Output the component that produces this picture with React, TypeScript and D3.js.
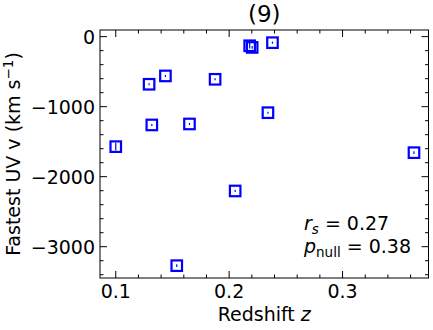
import React from "react";
import * as d3 from "d3";

// redshift / fastest UV velocity
const redshift = [0.1, 0.1318, 0.165, 0.1538, 0.2342, 0.2053, 0.363, 0.1294, 0.1438, 0.1876, 0.2181, 0.2203, 0.2382];
const velocity = [-1571, -1261, -1247, -3271, -1086, -2204, -1657, -680, -561, -609, -130, -154, -86];
const velErr = [55, 15, 15, 20, 15, 15, 20, 15, 15, 15, 40, 20, 15];

const xTicks = [0.1, 0.2, 0.3];
const yTicks = [0, -1000, -2000, -3000];

const W = 433, H = 330;
const margin = {left: 100, right: 4.5, top: 30, bottom: 52};
const font = "'DejaVu Sans', sans-serif";
const fs = 19;

const App = () => {
  const x = d3.scaleLinear().domain([0.0861, 0.3758]).range([margin.left, W - margin.right]);
  const y = d3.scaleLinear().domain([-3447, 95]).range([H - margin.bottom, margin.top]);
  const [x0, x1] = x.range();
  const [y0, y1] = y.range();

  const xMinor = d3.range(0.1, 0.376, 0.02).filter(v => !xTicks.some(t => Math.abs(t - v) < 1e-6));
  const yMinor = d3.range(0, -3447, -200).filter(v => v % 1000 !== 0);
  const major = 7, minor = 3.5;
  const sq = 10.5;

  return (
    <svg width={W} height={H} style={{position: "absolute", left: 0, top: 0, fontFamily: font}}>
      <rect width={W} height={H} fill="white" />
      <text x={(x0 + x1) / 2} y={22} fontSize={23} textAnchor="middle">(9)</text>

      {/* markers */}
      {redshift.map((z, i) => (
        <g key={i}>
          <line x1={x(z)} x2={x(z)} y1={y(velocity[i] - velErr[i])} y2={y(velocity[i] + velErr[i])} stroke="#0000ff" strokeWidth={1.2} />
          <rect x={x(z) - sq / 2} y={y(velocity[i]) - sq / 2} width={sq} height={sq} fill="none" stroke="#0000ff" strokeWidth={2.2} />
        </g>
      ))}

      {/* ticks, all four sides, inward */}
      <g stroke="black" strokeWidth={1}>
        {xTicks.map(t => (
          <g key={"xt" + t}>
            <line x1={x(t)} x2={x(t)} y1={y0} y2={y0 - major} />
            <line x1={x(t)} x2={x(t)} y1={y1} y2={y1 + major} />
          </g>
        ))}
        {xMinor.map(t => (
          <g key={"xm" + t}>
            <line x1={x(t)} x2={x(t)} y1={y0} y2={y0 - minor} />
            <line x1={x(t)} x2={x(t)} y1={y1} y2={y1 + minor} />
          </g>
        ))}
        {yTicks.map(t => (
          <g key={"yt" + t}>
            <line x1={x0} x2={x0 + major} y1={y(t)} y2={y(t)} />
            <line x1={x1} x2={x1 - major} y1={y(t)} y2={y(t)} />
          </g>
        ))}
        {yMinor.map(t => (
          <g key={"ym" + t}>
            <line x1={x0} x2={x0 + minor} y1={y(t)} y2={y(t)} />
            <line x1={x1} x2={x1 - minor} y1={y(t)} y2={y(t)} />
          </g>
        ))}
      </g>
      <rect x={x0} y={y1} width={x1 - x0} height={y0 - y1} fill="none" stroke="black" strokeWidth={1} />

      {/* tick labels */}
      {xTicks.map(t => (
        <text key={"xl" + t} x={x(t)} y={y0 + 20} fontSize={fs} textAnchor="middle">{d3.format(".1f")(t)}</text>
      ))}
      {yTicks.map(t => (
        <text key={"yl" + t} x={x0 - 5} y={y(t) + 7} fontSize={fs} textAnchor="end">{t === 0 ? "0" : "\u2212" + Math.abs(t)}</text>
      ))}

      <text x={(x0 + x1) / 2} y={321} fontSize={fs} textAnchor="middle">
        Redshift <tspan fontStyle="italic">z</tspan>
      </text>
      <text transform={`translate(20,${(y0 + y1) / 2}) rotate(-90)`} fontSize={fs} textAnchor="middle">
        Fastest UV v (km s<tspan dy={-7} fontSize={13.5}>{"\u22121"}</tspan><tspan dy={7}>)</tspan>
      </text>

      <text x={304} y={230} fontSize={fs}>
        <tspan fontStyle="italic">r</tspan><tspan fontStyle="italic" fontSize={13.5} dy={4}>s</tspan><tspan dy={-4}> = 0.27</tspan>
      </text>
      <text x={304} y={253} fontSize={fs}>
        <tspan fontStyle="italic">p</tspan><tspan fontSize={13.5} dy={4}>null</tspan><tspan dy={-4}> = 0.38</tspan>
      </text>
    </svg>
  );
};

export default App;
